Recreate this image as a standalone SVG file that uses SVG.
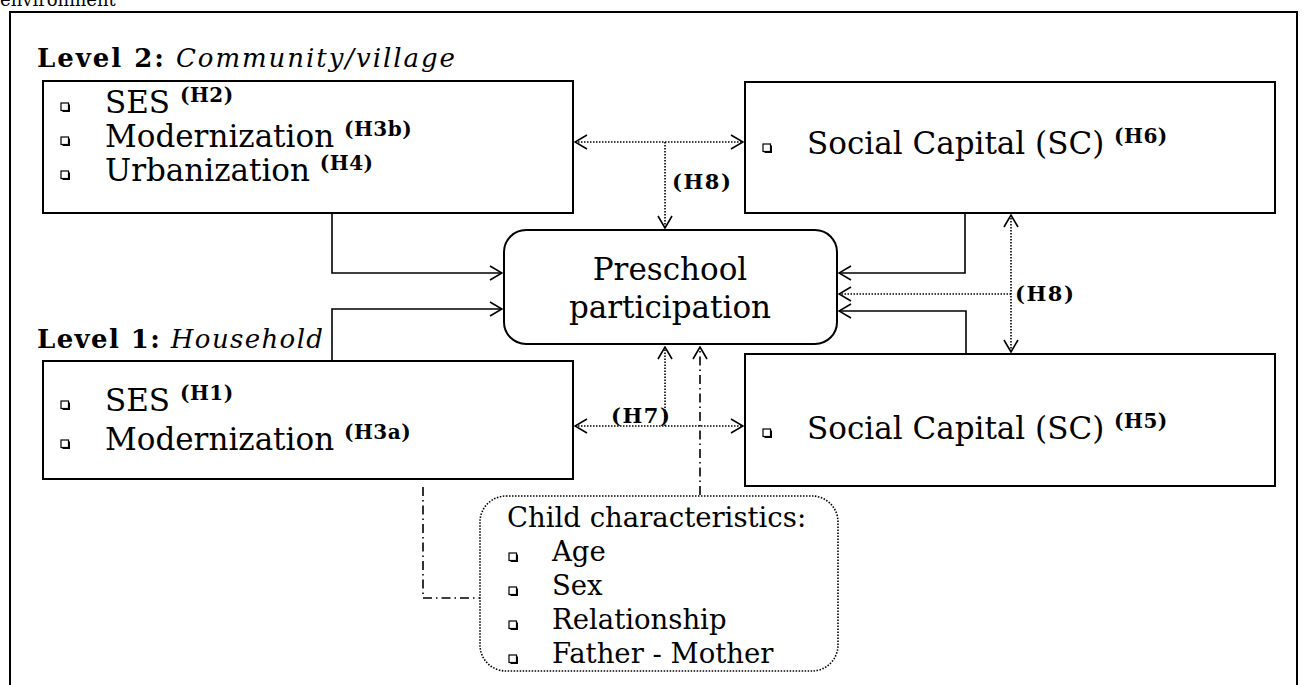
<svg xmlns="http://www.w3.org/2000/svg" xmlns:xlink="http://www.w3.org/1999/xlink" width="1307" height="685" viewBox="0 0 1307 685">
<style>
  text { font-family: "DejaVu Serif", "Liberation Serif", serif; fill: #000; }
  .box { fill: #fff; stroke: #000; stroke-width: 2; }
  .item { font-size: 31px; }
  .sup { font-size: 20px; font-weight: bold; letter-spacing: 0.5px; }
  .lab { font-size: 21px; font-weight: bold; letter-spacing: 1.5px; }
  .lvl { font-size: 26px; }
  .ch { font-size: 27.5px; }
  .solid { fill: none; stroke: #000; stroke-width: 1.6; }
  .dot { fill: none; stroke: #000; stroke-width: 1.6; stroke-dasharray: 1.5 1.5; }
  .dashdot { fill: none; stroke: #000; stroke-width: 1.6; stroke-dasharray: 9 4 1.5 4; }
</style>
<defs>
  <marker id="arr" viewBox="0 0 14 16" refX="13" refY="8" markerWidth="14" markerHeight="16" markerUnits="userSpaceOnUse" orient="auto-start-reverse">
    <path d="M1,1 L13,8 L1,15" fill="none" stroke="#000" stroke-width="1.6"/>
  </marker>
  <g id="bul">
    <rect x="1.5" y="1.5" width="7.5" height="7.5" fill="#000"/>
    <rect x="0" y="0" width="7.5" height="7.5" fill="#fff" stroke="#000" stroke-width="1.2"/>
  </g>
</defs>

<text x="0" y="6" font-size="18">environment</text>
<rect x="10" y="12" width="1287" height="700" fill="none" stroke="#000" stroke-width="2"/>

<g id="connectors">
  <path class="solid" d="M332,213 V273 H502" marker-end="url(#arr)"/>
  <path class="solid" d="M332,361 V309 H502" marker-end="url(#arr)"/>
  <path class="dot" d="M575,142 H743" marker-start="url(#arr)" marker-end="url(#arr)"/>
  <path class="dot" d="M665,142 V228" marker-end="url(#arr)"/>
  <path class="solid" d="M965,213 V273 H839" marker-end="url(#arr)"/>
  <path class="dot" d="M1011,294 H839" marker-end="url(#arr)"/>
  <path class="solid" d="M966,354 V311 H839" marker-end="url(#arr)"/>
  <path class="dot" d="M1011,215 V352" marker-start="url(#arr)" marker-end="url(#arr)"/>
  <path class="dot" d="M575,426 H743" marker-start="url(#arr)" marker-end="url(#arr)"/>
  <path class="dot" d="M665,426 V347" marker-end="url(#arr)"/>
  <path class="dashdot" d="M700,495 V347" marker-end="url(#arr)"/>
  <path class="dashdot" d="M423,487 V598 H480"/>
  <text class="lab" x="672" y="189">(H8)</text>
  <text class="lab" x="1015" y="301">(H8)</text>
  <text class="lab" x="611" y="423">(H7)</text>
</g>

<g id="level2">
  <text class="lvl" x="37" y="67" textLength="418" lengthAdjust="spacing"><tspan font-weight="bold">Level 2:</tspan> <tspan font-style="italic">Community/village</tspan></text>
  <rect class="box" x="43" y="81" width="530" height="132"/>
  <use xlink:href="#bul" x="61" y="103"/>
  <use xlink:href="#bul" x="61" y="137"/>
  <use xlink:href="#bul" x="61" y="171"/>
  <text class="item" x="105" y="113">SES <tspan class="sup" dy="-11">(H2)</tspan></text>
  <text class="item" x="105" y="147">Modernization <tspan class="sup" dy="-11">(H3b)</tspan></text>
  <text class="item" x="105" y="181">Urbanization <tspan class="sup" dy="-11">(H4)</tspan></text>
</g>

<g id="sc6">
  <rect class="box" x="745" y="82" width="530" height="131"/>
  <use xlink:href="#bul" x="763" y="144"/>
  <text class="item" x="807" y="154">Social Capital (SC) <tspan class="sup" dy="-11">(H6)</tspan></text>
</g>

<g id="preschool">
  <rect class="box" x="504" y="230" width="333" height="114" rx="22"/>
  <text class="item" x="670" y="280" text-anchor="middle">Preschool</text>
  <text class="item" x="670" y="318" text-anchor="middle">participation</text>
</g>

<g id="level1">
  <text class="lvl" x="37" y="348" textLength="286" lengthAdjust="spacing"><tspan font-weight="bold">Level 1:</tspan> <tspan font-style="italic">Household</tspan></text>
  <rect class="box" x="43" y="361" width="530" height="118"/>
  <use xlink:href="#bul" x="61" y="401"/>
  <use xlink:href="#bul" x="61" y="440"/>
  <text class="item" x="105" y="411">SES <tspan class="sup" dy="-11">(H1)</tspan></text>
  <text class="item" x="105" y="450">Modernization <tspan class="sup" dy="-11">(H3a)</tspan></text>
</g>

<g id="sc5">
  <rect class="box" x="745" y="354" width="530" height="132"/>
  <use xlink:href="#bul" x="763" y="429"/>
  <text class="item" x="807" y="439">Social Capital (SC) <tspan class="sup" dy="-11">(H5)</tspan></text>
</g>

<g id="child">
  <rect x="480" y="496" width="358" height="175" rx="26" fill="#fff" stroke="#000" stroke-width="1.6" stroke-dasharray="1.5 1.5"/>
  <text class="ch" x="507" y="527">Child characteristics:</text>
  <use xlink:href="#bul" x="509" y="553"/>
  <use xlink:href="#bul" x="509" y="587"/>
  <use xlink:href="#bul" x="509" y="621"/>
  <use xlink:href="#bul" x="509" y="655"/>
  <text class="ch" x="552" y="561">Age</text>
  <text class="ch" x="552" y="595">Sex</text>
  <text class="ch" x="552" y="629">Relationship</text>
  <text class="ch" x="552" y="663">Father - Mother</text>
</g>
</svg>
